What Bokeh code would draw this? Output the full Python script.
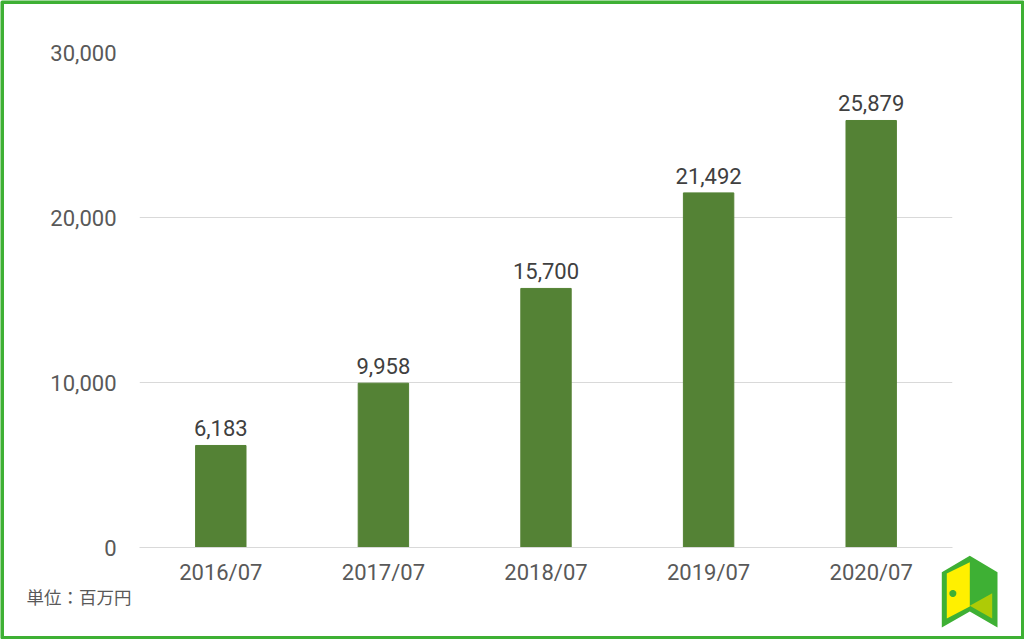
import numpy as np
from bokeh.plotting import figure
from bokeh.models import ColumnDataSource, Range1d, FactorRange, NumeralTickFormatter, FixedTicker
from bokeh.core.properties import value
from bokeh.embed import file_html
from bokeh.resources import INLINE

categories = ["2016/07", "2017/07", "2018/07", "2019/07", "2020/07"]
values = [6183, 9958, 15700, 21492, 25879]
y_ticks = [0, 10000, 20000, 30000]

FONT = "Roboto"
GREEN = "#3eb034"

# Background layer: frame, unit note and logo, on a page-sized pixel scale
bg = figure(width=1024, height=639, output_backend="svg", toolbar_location=None,
            x_range=Range1d(0, 1024), y_range=Range1d(639, 0),
            min_border=0, x_axis_type=None, y_axis_type=None)
bg.styles = {"position": "absolute", "left": "0px", "top": "0px"}
bg.outline_line_color = None
bg.xgrid.visible = False
bg.ygrid.visible = False
bg.background_fill_color = "white"
bg.border_fill_color = "white"
bg.patch([1.5, 1022.5, 1022.5, 1.5, 1.5], [1.5, 1.5, 637.5, 637.5, 1.5], fill_alpha=0,
         line_color=GREEN, line_width=4)
bg.patch([941.3, 969.3, 997, 997, 969.3, 941.3], [571.7, 555.3, 571.7, 627, 611, 627], color=GREEN, line_width=0)
bg.patch([946.3, 969.3, 969.3, 946.3], [573, 561.7, 606, 618], color="#fff000", line_width=0)
bg.patch([991.7, 991.7, 969.3], [592.7, 618, 605.3], color="#aecb06", line_width=0)
t = np.linspace(0, 2 * np.pi, 20)[:-1]
bg.patch(952.3 + 3.5 * np.cos(t), 593 + 3.5 * np.sin(t), color=GREEN, line_width=0)
bg.text(x=[26], y=[596], text=["単位：百万円"], text_font=value("Noto Sans CJK JP"),
        text_font_size="17.5px", text_color="#595959", text_baseline="middle")

# Chart layer
p = figure(width=1024, height=639, output_backend="svg", toolbar_location=None,
           x_range=FactorRange(factors=categories, range_padding=0),
           y_range=Range1d(0, 30000),
           min_border_left=139, min_border_right=72, min_border_top=52, min_border_bottom=92)
p.styles = {"position": "absolute", "left": "0px", "top": "0px"}
p.outline_line_color = None
p.background_fill_color = None
p.border_fill_color = None

src = ColumnDataSource(dict(cat=categories, val=values, lab=[f"{v:,}" for v in values]))
p.vbar(x="cat", top="val", width=0.31, source=src, color="#548235")
p.text(x="cat", y="val", text="lab", source=src, text_align="center", text_baseline="bottom",
       y_offset=-9, text_font=value(FONT), text_font_size="22px", text_color="#404040")

p.xgrid.visible = False
p.ygrid.grid_line_color = "#d9d9d9"
p.ygrid.grid_line_width = 1
p.yaxis.ticker = FixedTicker(ticks=y_ticks)
p.yaxis.formatter = NumeralTickFormatter(format="0,0")
p.yaxis.axis_line_color = None
p.yaxis.major_tick_line_color = None
p.yaxis.minor_tick_line_color = None
p.yaxis.major_label_standoff = 17
p.xaxis.axis_line_color = "#d9d9d9"
p.xaxis.major_tick_line_color = None
p.xaxis.minor_tick_line_color = None
p.xaxis.major_label_standoff = 6
for ax in (p.xaxis[0], p.yaxis[0]):
    ax.major_label_text_font = FONT
    ax.major_label_text_font_size = "22px"
    ax.major_label_text_color = "#595959"

open("out.html", "w").write(file_html([bg, p], INLINE))
